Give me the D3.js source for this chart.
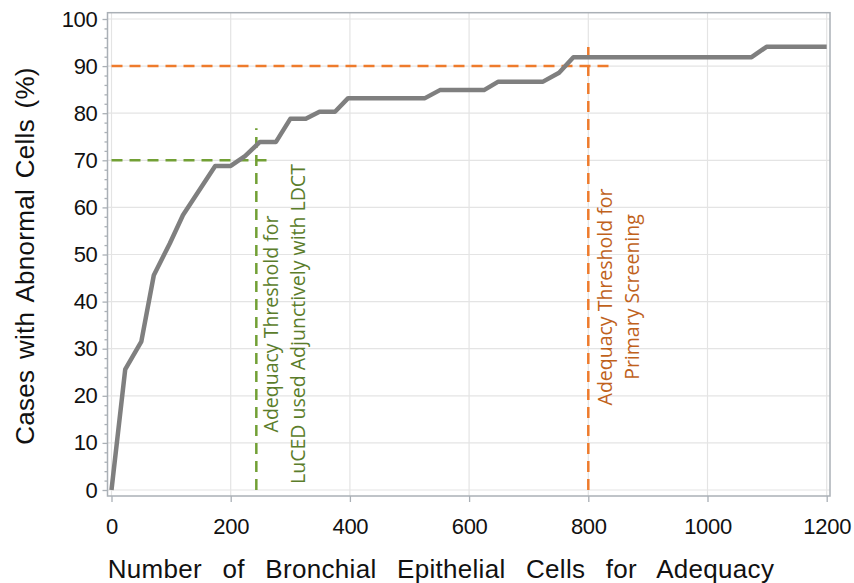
<!DOCTYPE html>
<html>
<head>
<meta charset="utf-8">
<script src="https://cdn.jsdelivr.net/npm/d3@7"></script>
<style>
  html, body { margin: 0; padding: 0; background: #fff; }
  svg { display: block; }
</style>
</head>
<body>
<svg id="chart" width="854" height="583"></svg>
<script>
// ---- data ----
const cellCounts = [0, 23, 50, 71, 98, 120, 174, 200, 224, 249, 276, 300, 326, 349, 375, 397, 526, 551, 625, 649, 724, 751, 775, 1074, 1099, 1200];
const pctAbnormal = [0, 25.6, 31.5, 45.6, 52.4, 58.4, 68.8, 68.8, 70.9, 73.9, 73.9, 78.8, 78.8, 80.3, 80.3, 83.2, 83.2, 84.9, 84.9, 86.7, 86.7, 88.6, 91.9, 91.9, 94.1, 94.1];
const xTicks = [0, 200, 400, 600, 800, 1000, 1200];
const yTicks = [0, 10, 20, 30, 40, 50, 60, 70, 80, 90, 100];
const yMinorTicks = d3.range(0, 101, 2);
const adjunctThreshold = { x: 243, vTop: 76.8, y: 70, hEnd: 264 };
const primaryThreshold = { x: 800, vTop: 95.5, y: 90, hEnd: 842 };
const adjunctLabel = ["Adequacy Threshold for", "LuCED used Adjunctively with LDCT"];
const primaryLabel = ["Adequacy Threshold for", "Primary Screening"];
const xTitle = "Number of Bronchial Epithelial Cells for Adequacy";
const yTitle = "Cases with Abnormal Cells (%)";

// ---- layout ----
const svg = d3.select("#chart");
const x = d3.scaleLinear().domain([0, 1200]).range([111.5, 826.7]);
const y = d3.scaleLinear().domain([0, 100]).range([490, 19]);
const frame = { left: 107.5, right: 830, top: 12.7, bottom: 496 };

const axisColor = "#aab0b6";
const gridColor = "#e4e4e4";
const tickFont = "'Liberation Sans', Arial, sans-serif";

// grid
svg.append("g").selectAll("line").data(yTicks).join("line")
  .attr("x1", frame.left).attr("x2", frame.right)
  .attr("y1", d => y(d)).attr("y2", d => y(d))
  .attr("stroke", gridColor).attr("stroke-width", 1.2);
svg.append("g").selectAll("line").data(xTicks).join("line")
  .attr("y1", frame.top).attr("y2", frame.bottom)
  .attr("x1", d => x(d)).attr("x2", d => x(d))
  .attr("stroke", gridColor).attr("stroke-width", 1.2);

// frame
svg.append("rect")
  .attr("x", frame.left).attr("y", frame.top)
  .attr("width", frame.right - frame.left).attr("height", frame.bottom - frame.top)
  .attr("fill", "none").attr("stroke", axisColor).attr("stroke-width", 1.5);

// axes
const xAxis = svg.append("g").attr("transform", `translate(0,${frame.bottom})`)
  .call(d3.axisBottom(x).tickValues(xTicks).tickSize(6).tickPadding(16).tickFormat(d3.format("d")));
const yAxis = svg.append("g").attr("transform", `translate(${frame.left},0)`)
  .call(d3.axisLeft(y).tickValues(yTicks).tickSize(5).tickPadding(5).tickFormat(d3.format("d")));
const yAxisMinor = svg.append("g").attr("transform", `translate(${frame.left},0)`)
  .call(d3.axisLeft(y).tickValues(yMinorTicks.filter(v => v % 10 !== 0)).tickSize(3).tickFormat(""));
[xAxis, yAxis, yAxisMinor].forEach(g => {
  g.select(".domain").remove();
  g.selectAll(".tick line").attr("stroke", axisColor).attr("stroke-width", 1.3);
  g.selectAll(".tick text")
    .attr("fill", "#111").style("font-family", tickFont)
    .style("font-size", "22px").style("letter-spacing", "-0.3px");
});
xAxis.selectAll(".tick text").attr("dy", "0.71em");

// threshold lines
function threshold(t, color) {
  svg.append("line")
    .attr("x1", x(t.x)).attr("x2", x(t.x))
    .attr("y1", y(0)).attr("y2", y(t.vTop))
    .attr("stroke", color).attr("stroke-width", 2.5).attr("stroke-dasharray", "11,7");
  svg.append("line")
    .attr("x1", x(0)).attr("x2", x(t.hEnd))
    .attr("y1", y(t.y)).attr("y2", y(t.y))
    .attr("stroke", color).attr("stroke-width", 2.5).attr("stroke-dasharray", "11,7");
}
threshold(adjunctThreshold, "#72a035");
threshold(primaryThreshold, "#ee7b2c");

// data line
const data = cellCounts.map((c, i) => [c, pctAbnormal[i]]);
svg.append("path")
  .datum(data)
  .attr("fill", "none")
  .attr("stroke", "#7f7f7f")
  .attr("stroke-width", 4.5)
  .attr("stroke-linejoin", "round")
  .attr("d", d3.line().x(d => x(d[0])).y(d => y(d[1])));

// annotation labels (rotated)
const annFont = "'Open Sans', 'Noto Sans', sans-serif";
function label(lines, xs, cy, color) {
  lines.forEach((t, i) => {
    svg.append("text")
      .attr("transform", `translate(${xs[i]},${cy}) rotate(-90)`)
      .attr("text-anchor", "middle")
      .attr("dy", "0.35em")
      .attr("fill", color)
      .style("font-family", annFont)
      .style("font-size", "19.5px")
      .text(t);
  });
}
label(adjunctLabel, [271.5, 298.5], 324, "#5b7d2b");
label(primaryLabel, [605, 632.5], 297, "#c0621c");

// axis titles
svg.append("text")
  .attr("x", 441).attr("y", 578)
  .attr("text-anchor", "middle")
  .attr("fill", "#111")
  .style("font-family", tickFont).style("font-size", "26px")
  .style("word-spacing", "13px").style("letter-spacing", "0.3px")
  .text(xTitle);
svg.append("text")
  .attr("transform", "translate(34,256) rotate(-90)")
  .attr("text-anchor", "middle")
  .attr("fill", "#111")
  .style("font-family", tickFont).style("font-size", "26px")
  .style("word-spacing", "3px").style("letter-spacing", "0.3px")
  .text(yTitle);
</script>
</body>
</html>
